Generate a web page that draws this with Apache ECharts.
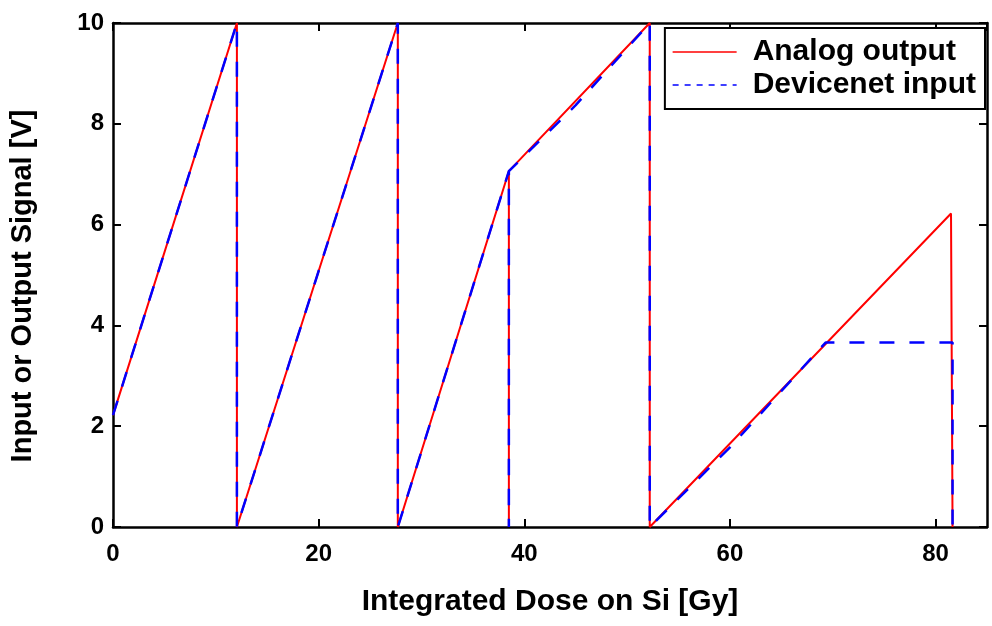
<!DOCTYPE html>
<html>
<head>
<meta charset="utf-8">
<script src="https://cdn.jsdelivr.net/npm/echarts@6/dist/echarts.min.js"></script>
<style>
html,body{margin:0;padding:0;background:#fff;}
#chart{width:992px;height:626px;}
</style>
</head>
<body>
<div id="chart"></div>
<script>
// Analog output (red, solid)
var analogX = [0, 12.05, 12.05, 27.7, 27.7, 38.5, 38.5, 38.5, 52.2, 52.2, 81.5, 81.65, 81.65];
var analogY = [2.22, 10, 0, 10, 0, 7.06, 0, 7.06, 10, 0, 6.22, 6.22, 0];
// Devicenet input (blue, dashed)
var deviceX = [0, 12.05, 12.05, 27.7, 27.7, 38.5, 38.5, 38.5, 45, 52.2, 52.2, 60, 69.3, 81.65, 81.65];
var deviceY = [2.22, 10, 0, 10, 0, 7.06, 0, 7.06, 8.37, 10, 0, 1.58, 3.66, 3.66, 0];
var seriesNames = ['Analog output', 'Devicenet input'];
var xTitle = 'Integrated Dose on Si [Gy]';
var yTitle = 'Input or Output Signal [V]';

function pairs(xs, ys) { return xs.map(function (x, i) { return [x, ys[i]]; }); }

var FONT = '"Liberation Sans", Arial, Helvetica, sans-serif';
var axisLine = { show: true, onZero: false, lineStyle: { color: '#000', width: 2.5 } };
var tickIn = { show: true, inside: true, length: 8, lineStyle: { color: '#000', width: 2 } };

var chart = echarts.init(document.getElementById('chart'), null, { renderer: 'canvas' });
chart.setOption({
  animation: false,
  backgroundColor: '#fff',
  textStyle: { fontFamily: FONT },
  grid: { left: 110, right: 5, top: 23, bottom: 99, containLabel: false },
  legend: {
    show: true,
    orient: 'vertical',
    right: 7,
    top: 28,
    padding: [9, 9, 9, 7],
    itemGap: 3,
    itemWidth: 64,
    itemHeight: 14,
    borderColor: '#000',
    borderWidth: 2,
    backgroundColor: '#fff',
    itemStyle: { opacity: 0 },
    textStyle: { fontFamily: FONT, fontSize: 30, fontWeight: 'bold', color: '#000', padding: [0, 0, 0, 11] },
    data: [
      { name: seriesNames[0], itemStyle: { opacity: 0 }, lineStyle: { width: 1.5 } },
      { name: seriesNames[1], itemStyle: { opacity: 0 }, lineStyle: { width: 1.5, type: [6, 6] } }
    ]
  },
  xAxis: [
    {
      type: 'value', position: 'bottom', min: 0, max: 85, interval: 20,
      axisLine: axisLine, axisTick: tickIn, splitLine: { show: false },
      axisLabel: { show: true, margin: 15, showMaxLabel: false, fontFamily: FONT, fontSize: 24, fontWeight: 'bold', color: '#000' },
      name: xTitle, nameLocation: 'middle', nameGap: 60,
      nameTextStyle: { fontFamily: FONT, fontSize: 30, fontWeight: 'bold', color: '#000' }
    },
    {
      type: 'value', position: 'top', min: 0, max: 85, interval: 20,
      axisLine: axisLine, axisTick: tickIn, splitLine: { show: false },
      axisLabel: { show: false }
    }
  ],
  yAxis: [
    {
      type: 'value', position: 'left', min: 0, max: 10, interval: 2,
      axisLine: axisLine, axisTick: tickIn, splitLine: { show: false },
      axisLabel: { show: true, margin: 9, fontFamily: FONT, fontSize: 24, fontWeight: 'bold', color: '#000' },
      name: yTitle, nameLocation: 'middle', nameGap: 76,
      nameTextStyle: { fontFamily: FONT, fontSize: 29, fontWeight: 'bold', color: '#000', padding: [0, 22, 0, 0] }
    },
    {
      type: 'value', position: 'right', min: 0, max: 10, interval: 2,
      axisLine: axisLine, axisTick: tickIn, splitLine: { show: false },
      axisLabel: { show: false }
    }
  ],
  series: [
    {
      name: seriesNames[0], type: 'line', xAxisIndex: 0, yAxisIndex: 0,
      data: pairs(analogX, analogY), showSymbol: false, symbol: 'none', z: 2,
      lineStyle: { color: '#ff0000', width: 2 }, itemStyle: { color: '#ff0000' }
    },
    {
      name: seriesNames[1], type: 'line', xAxisIndex: 0, yAxisIndex: 0,
      data: pairs(deviceX, deviceY), showSymbol: false, symbol: 'none', z: 3,
      lineStyle: { color: '#0000ff', width: 2.5, type: [15, 15] }, itemStyle: { color: '#0000ff' }
    }
  ]
});
</script>
</body>
</html>
